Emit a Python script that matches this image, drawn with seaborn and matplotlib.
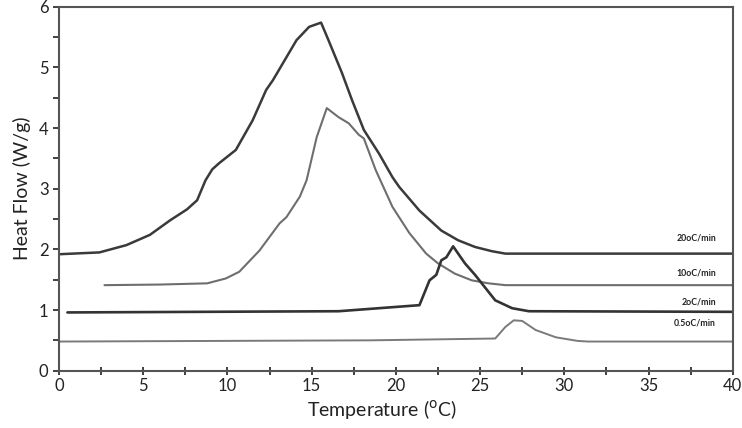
import matplotlib
matplotlib.use("Agg")
import matplotlib.pyplot as plt
import seaborn as sns
from matplotlib.ticker import MultipleLocator

# ---- data ----
T20 = [0, 2.4, 4.0, 5.4, 6.6, 7.6, 8.2, 8.7, 9.1, 9.5, 10.5, 11.5, 12.3, 12.7, 13.4, 14.1,
       14.85, 15.56, 16.0, 16.8, 17.4, 18.1, 19.0, 19.8, 20.2, 21.4, 22.7, 23.7, 24.7, 25.7,
       26.5, 40]
H20 = [1.92, 1.95, 2.07, 2.24, 2.48, 2.66, 2.81, 3.14, 3.32, 3.42, 3.64, 4.13, 4.63, 4.79, 5.12, 5.45,
       5.67, 5.74, 5.45, 4.91, 4.46, 3.97, 3.58, 3.19, 3.03, 2.64, 2.31, 2.15, 2.04, 1.97,
       1.93, 1.93]

T10 = [2.7, 6.0, 8.8, 9.9, 10.7, 11.9, 13.1, 13.5, 14.3, 14.7, 15.3, 15.9, 16.6, 17.2, 17.8,
       18.1, 18.8, 19.8, 20.8, 21.8, 22.5, 23.5, 24.5, 25.5, 26.5, 40]
H10 = [1.41, 1.42, 1.44, 1.52, 1.63, 1.98, 2.43, 2.53, 2.87, 3.14, 3.85, 4.33, 4.18, 4.08, 3.89,
       3.83, 3.31, 2.70, 2.27, 1.93, 1.77, 1.60, 1.49, 1.44, 1.41, 1.41]

T2 = [0.5, 16.6, 21.4, 22.0, 22.4, 22.7, 23.0, 23.4, 24.1, 24.7, 25.1, 25.9, 26.9, 27.9, 40]
H2 = [0.96, 0.98, 1.08, 1.49, 1.58, 1.82, 1.87, 2.05, 1.77, 1.58, 1.44, 1.16, 1.03, 0.98, 0.97]

T05 = [0, 18.5, 25.9, 26.5, 27.0, 27.5, 28.3, 29.5, 30.8, 31.4, 40]
H05 = [0.48, 0.50, 0.53, 0.72, 0.83, 0.82, 0.67, 0.55, 0.49, 0.48, 0.48]

labels = ["20oC/min", "10oC/min", "2oC/min", "0.5oC/min"]
label_y = [2.18, 1.61, 1.13, 0.78]

sns.set_style("ticks")
plt.rcParams["font.family"] = ["Lato", "DejaVu Sans"]

fig = plt.figure(figsize=(7.42, 4.28), dpi=100)
ax = fig.add_axes([0.0795, 0.134, 0.908, 0.850])

series = [(T20, H20, "#3a3a3a", 1.8), (T10, H10, "#6e6e6e", 1.5),
          (T2, H2, "#333333", 1.9), (T05, H05, "#7a7a7a", 1.4)]
for xs, ys, c, lw in series:
    sns.lineplot(x=xs, y=ys, ax=ax, color=c, lw=lw, sort=False, estimator=None,
                 solid_joinstyle="round", solid_capstyle="round")

for lab, yy in zip(labels, label_y):
    ax.text(39.0, yy, lab, ha="right", va="center", fontsize=6.3,
            fontweight="bold", color="#222222")

ax.set_xlim(0, 40)
ax.set_ylim(0, 6)
ax.xaxis.set_major_locator(MultipleLocator(5))
ax.xaxis.set_minor_locator(MultipleLocator(2.5))
ax.yaxis.set_major_locator(MultipleLocator(1))
ax.yaxis.set_minor_locator(MultipleLocator(0.5))
ax.tick_params(axis="x", which="both", direction="inout", length=6, width=1.3,
               colors="#333333", labelcolor="#222222", labelsize=12, bottom=True, pad=2)
ax.tick_params(axis="y", which="both", direction="out", length=4, width=1.3,
               colors="#333333", labelcolor="#222222", labelsize=12, left=True)
for s in ax.spines.values():
    s.set_visible(True)
    s.set_color("#555555")
    s.set_linewidth(1.5)

ax.set_xlabel("Temperature ($^{\\mathrm{o}}$C)", fontsize=14, color="#222222", labelpad=6)
ax.xaxis.set_label_coords(0.48, -0.075)
ax.set_ylabel("Heat Flow (W/g)", fontsize=14, color="#222222", labelpad=6)

fig.savefig("out.png", dpi=100)
